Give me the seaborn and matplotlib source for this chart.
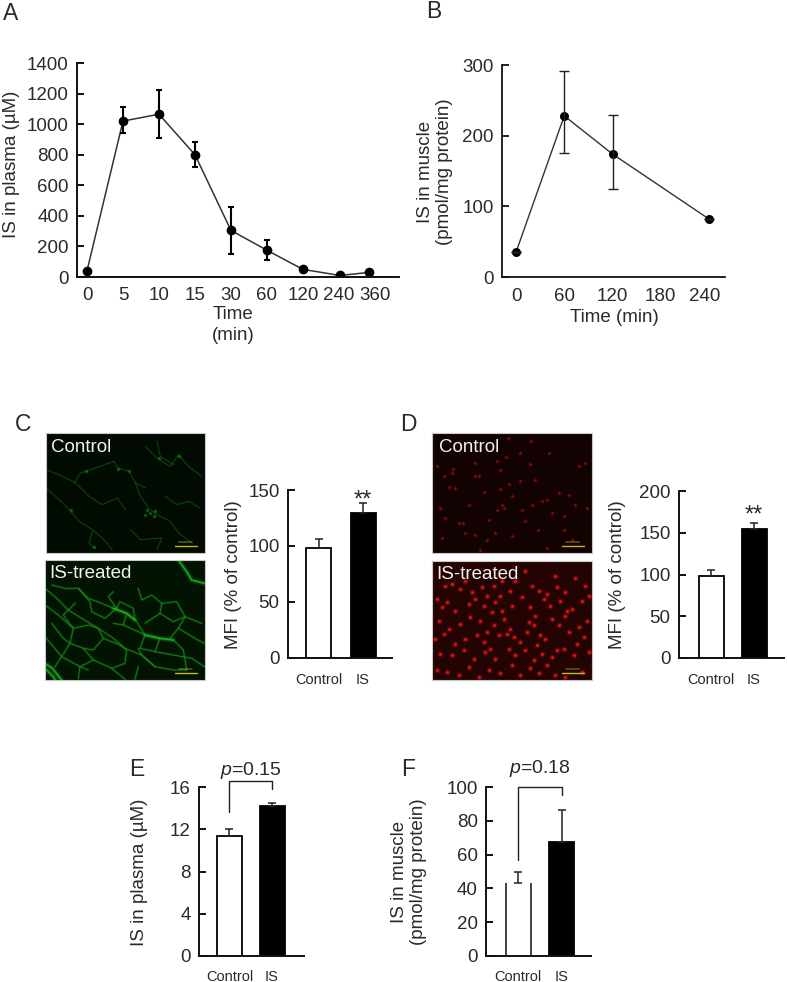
import matplotlib
matplotlib.use("Agg")
import matplotlib.pyplot as plt
import pandas as pd
import seaborn as sns

# A
a_labels = ["0", "5", "10", "15", "30", "60", "120", "240", "360"]
a_x = [0, 1, 2, 3, 4, 5, 6, 7.03, 7.83]
a_y = [40, 1020, 1065, 800, 305, 175, 50, 10, 30]
a_low = [40, 945, 910, 720, 150, 110, 50, 10, 30]
a_high = [40, 1115, 1225, 885, 460, 240, 50, 10, 30]

# B
b_x = [0, 60, 120, 240]
b_y = [35, 228, 174, 82]
b_low = [35, 175, 124, 82]
b_high = [35, 291, 229, 82]
b_ticks = [0, 60, 120, 180, 235]
b_labels = ["0", "60", "120", "180", "240"]

# bar panels
groups = ["Control", "IS"]
c_y = [98, 129.5]
c_err = [106, 138]
d_y = [98.5, 155]
d_err = [105, 162]
e_y = [11.4, 14.2]
e_err = [12, 14.5]
f_y = [43, 67.3]
f_err = [50, 86.5]

# micrographs, traces (x, y in a 480x360 frame)
green_ctrl_traces = [
    [(0, 165), (40, 200), (75, 235), (100, 265), (140, 290), (175, 320), (200, 350)],
    [(85, 150), (105, 120), (150, 105), (205, 85), (218, 105), (250, 115), (270, 150), (300, 165)],
    [(270, 150), (285, 190), (310, 225), (335, 245), (375, 265), (400, 300), (440, 330)],
    [(300, 40), (335, 75), (375, 100), (400, 65), (430, 100), (470, 130)],
    [(335, 25), (345, 70), (385, 95)],
    [(0, 110), (50, 130), (90, 150), (130, 190), (170, 215), (215, 195), (240, 230)],
    [(255, 290), (285, 320), (350, 315), (335, 350)],
    [(140, 295), (130, 330), (145, 345)],
    [(360, 190), (395, 215), (430, 205), (465, 225)],
]
green_ctrl_blobs_x = [305, 315, 325, 300, 330, 400, 340, 120, 218, 250, 145, 75]
green_ctrl_blobs_y = [230, 240, 250, 245, 235, 68, 75, 115, 107, 113, 342, 230]

green_is_traces = [
    [(0, 85), (35, 115), (70, 150), (110, 175), (160, 205), (205, 235), (240, 265), (290, 285), (330, 320)],
    [(20, 75), (60, 85), (100, 85), (130, 115), (170, 130), (205, 145), (245, 160), (275, 185), (300, 225), (345, 235), (385, 240), (415, 270), (425, 330)],
    [(100, 85), (135, 125), (140, 155), (180, 175), (215, 145)],
    [(205, 95), (190, 110), (215, 145), (225, 125), (265, 145), (270, 180)],
    [(280, 85), (290, 120), (320, 105), (350, 130), (395, 125), (420, 170), (400, 205), (375, 235)],
    [(0, 135), (40, 165), (85, 205), (75, 250), (115, 265), (145, 300), (200, 325), (240, 358)],
    [(85, 205), (130, 195), (160, 205), (175, 235), (145, 270), (115, 265)],
    [(175, 235), (225, 255), (245, 270), (240, 310), (200, 325)],
    [(245, 160), (235, 195), (280, 215), (300, 225), (285, 265), (330, 275), (345, 235)],
    [(330, 275), (385, 285), (440, 295), (478, 320)],
    [(20, 190), (55, 235), (75, 250), (50, 290), (105, 320), (145, 300)],
    [(0, 230), (50, 290), (30, 320)],
    [(280, 265), (290, 285), (330, 320), (385, 330), (425, 330)],
    [(300, 190), (345, 160), (385, 185), (420, 170), (470, 190)],
    [(345, 160), (350, 130)],
    [(205, 235), (235, 195), (205, 145)],
    [(90, 130), (55, 165), (85, 205)],
    [(400, 205), (450, 235), (478, 250)],
    [(280, 320), (270, 358)],
    [(130, 330), (105, 320), (100, 355)],
]
green_is_bright = [
    [(400, 0), (425, 35), (440, 60), (478, 70)],
    [(0, 310), (22, 325), (50, 360)],
    [(0, 325), (25, 350), (30, 360)],
    [(205, 145), (245, 160), (270, 180)],
    [(300, 225), (345, 235), (385, 240)],
]

red_ctrl_x = [228, 296, 222, 196, 62, 50, 70, 130, 140, 205, 230, 215, 195, 210, 265, 295, 330, 318, 396, 145,
              92, 100, 130, 170, 190, 240, 270, 300, 345, 360, 410, 430, 465, 25, 30, 40, 60, 82, 110, 155,
              280, 310, 380, 440, 460, 15, 35, 130, 205, 240, 345, 395, 420, 350, 165, 265]
red_ctrl_y = [15, 23, 72, 85, 108, 162, 165, 130, 128, 168, 152, 226, 230, 215, 143, 92, 205, 292, 290, 350,
              270, 300, 305, 260, 300, 310, 230, 215, 200, 240, 185, 215, 225, 225, 315, 255, 120, 270, 215, 178,
              265, 140, 180, 100, 90, 100, 130, 90, 110, 190, 345, 250, 320, 60, 320, 60]

red_is_x = [40, 60, 100, 85, 120, 150, 165, 185, 205, 210, 235, 250, 280, 300, 320, 345, 370, 375, 400, 430, 460,
            15, 30, 45, 70, 110, 130, 155, 180, 190, 210, 240, 270, 295, 310, 335, 355, 385, 405, 420, 450, 470,
            20, 50, 85, 115, 145, 165, 185, 215, 235, 245, 290, 305, 325, 360, 380, 400, 440, 465,
            10, 35, 70, 100, 135, 155, 175, 200, 225, 265, 285, 315, 340, 375, 410, 435, 455,
            25, 60, 95, 125, 160, 190, 230, 250, 280, 305, 330, 360, 395, 425, 470,
            15, 45, 80, 110, 140, 170, 205, 240, 265, 295, 320, 345, 370, 400, 450]
red_is_y = [75, 70, 60, 85, 95, 80, 105, 75, 105, 60, 90, 60, 30, 75, 90, 100, 45, 80, 95, 50, 75,
            115, 140, 125, 150, 130, 115, 135, 155, 125, 150, 135, 110, 140, 165, 115, 135, 120, 150, 145, 120, 105,
            180, 205, 190, 170, 180, 215, 195, 175, 205, 230, 185, 195, 225, 175, 195, 165, 200, 180,
            235, 220, 250, 235, 225, 245, 265, 225, 220, 245, 215, 255, 235, 270, 215, 250, 230,
            280, 285, 270, 295, 275, 295, 265, 285, 270, 300, 280, 290, 265, 285, 275,
            330, 335, 345, 320, 350, 330, 340, 315, 345, 325, 340, 315, 345, 350, 335]

panel_labels = ["A", "B", "C", "D", "E", "F"]
panel_label_xy = [(11, 14), (434, 11), (23, 425), (408, 425), (137, 770), (408, 770)]

W, H = 787, 982
ink = "#2a2a2a"

sns.set_theme(style="ticks")
plt.rcParams["font.family"] = ["Liberation Sans", "DejaVu Sans"]
plt.rcParams["text.color"] = ink
plt.rcParams["axes.labelcolor"] = ink
plt.rcParams["xtick.labelcolor"] = ink
plt.rcParams["ytick.labelcolor"] = ink
plt.rcParams["mathtext.fontset"] = "custom"
plt.rcParams["mathtext.it"] = "Liberation Sans:italic"

fig = plt.figure(figsize=(W / 100, H / 100), dpi=100, facecolor="white")


def px_axes(left, top, right, bottom):
    return fig.add_axes([left / W, 1 - bottom / H, (right - left) / W, (bottom - top) / H])


def style_axes(ax, left, top, right, bottom, lw=1.4, tick_len=5):
    sns.despine(ax=ax)
    ax.patch.set_alpha(0)
    for s in ["left", "bottom"]:
        ax.spines[s].set_linewidth(lw)
        ax.spines[s].set_color("#111111")
    ax.tick_params(axis="y", direction="in", length=tick_len, width=lw, labelsize=13.5, pad=6, color="#111111")
    ax.tick_params(axis="x", length=0, labelsize=13.5)


def label_at(ax, box, text, x=None, y=None, which="y", **kw):
    left, top, right, bottom = box
    if which == "y":
        ax.set_ylabel(text, fontsize=13.5, linespacing=1.22, va="center", **kw)
        ax.yaxis.set_label_coords((x - left) / (right - left), (bottom - y) / (bottom - top))
    else:
        ax.set_xlabel(text, fontsize=13.5, linespacing=1.32, va="center", **kw)
        ax.xaxis.set_label_coords((x - left) / (right - left), (bottom - y) / (bottom - top))


# A
box = (77, 63, 399, 277)
ax = px_axes(*box)
sns.lineplot(x=a_x, y=a_y, ax=ax, color="#333333", linewidth=1.1, marker="o", markersize=7,
             markerfacecolor="black", markeredgecolor="black", markeredgewidth=0, errorbar=None)
ax.errorbar(a_x, a_y, yerr=[[m - l for m, l in zip(a_y, a_low)], [h - m for m, h in zip(a_y, a_high)]],
            fmt="none", ecolor="black", elinewidth=1.5, capsize=2.5, capthick=1.5)
ax.set_xlim(-0.278, 8.67)
ax.set_ylim(0, 1400)
ax.set_yticks(range(0, 1401, 200))
ax.set_xticks(range(9))
ax.set_xticklabels(a_labels)
style_axes(ax, *box)
ax.tick_params(axis="x", pad=7)
label_at(ax, box, "IS in plasma (µM)", x=12, y=164)
label_at(ax, box, "Time\n(min)", x=233, y=325, which="x")

# B
box = (502, 65, 725, 277)
ax = px_axes(*box)
sns.lineplot(x=b_x, y=b_y, ax=ax, color="#333333", linewidth=1.0, marker="o", markersize=6.5,
             markerfacecolor="black", markeredgecolor="black", markeredgewidth=0, errorbar=None)
ax.errorbar(b_x, b_y, yerr=[[m - l for m, l in zip(b_y, b_low)], [h - m for m, h in zip(b_y, b_high)]],
            fmt="none", ecolor="#222222", elinewidth=1.0, capsize=3.5, capthick=1.0)
px_per_min = (709 - 516) / 240
ax.set_xlim((502 - 516) / px_per_min, (725 - 516) / px_per_min)
ax.set_ylim(0, 300)
ax.set_yticks([0, 100, 200, 300])
ax.set_xticks(b_ticks)
ax.set_xticklabels(b_labels)
style_axes(ax, *box, lw=1.3)
ax.tick_params(axis="x", pad=8)
label_at(ax, box, "IS in muscle\n(pmol/mg protein)", x=435, y=172)
label_at(ax, box, "Time (min)", x=614, y=318, which="x")


# bars
def bar_panel(box, centers, bar_w, values, tops, ymax, yticks, ylabel, ylab_xy, label_y=677):
    left, top, right, bottom = box
    ax = px_axes(*box)
    frame = pd.DataFrame({"group": groups, "value": values})
    step = centers[1] - centers[0]
    sns.barplot(data=frame, x="group", y="value", hue="group", palette=["white", "black"], legend=False,
                width=bar_w / step, edgecolor="black", linewidth=1.3, ax=ax)
    ax.errorbar([0, 1], values, yerr=[[0, 0], [t - v for t, v in zip(tops, values)]],
                fmt="none", ecolor="#222222", elinewidth=1.1, capsize=3.2, capthick=1.1)
    ax.set_xlim((left - centers[0]) / step, (right - centers[0]) / step)
    ax.set_ylim(0, ymax)
    ax.set_yticks(yticks)
    style_axes(ax, *box)
    ax.set_xlabel("")
    ax.set_xticks([0, 1])
    ax.set_xticklabels(groups)
    ax.tick_params(axis="x", labelsize=10.5, pad=label_y - bottom - 8)
    label_at(ax, box, ylabel, x=ylab_xy[0], y=ylab_xy[1])
    return ax


ax_c = bar_panel((288, 490, 392, 658), (318.5, 363), 25, c_y, c_err, 150, [0, 50, 100, 150],
                 "MFI (% of control)", (233, 575))
ax_d = bar_panel((679, 491, 784, 658), (711, 754), 25, d_y, d_err, 200, [0, 50, 100, 150, 200],
                 "MFI (% of control)", (618, 575))
ax_c.text(1, 130.5, "**", ha="center", va="bottom", fontsize=17)
ax_d.text(1, 157.5, "**", ha="center", va="bottom", fontsize=17)

ax_e = bar_panel((199, 787, 304, 956), (229.5, 272), 25, e_y, e_err, 16, [0, 4, 8, 12, 16],
                 "IS in plasma (µM)", (140, 872), label_y=974)
ax_f = bar_panel((486, 787, 591, 956), (518, 561.5), 25, f_y, f_err, 100, [0, 20, 40, 60, 80, 100],
                 "IS in muscle\n(pmol/mg protein)", (409, 872), label_y=974)

# F control bar has no top edge, white gap under the error bar
ctrl = ax_f.patches[0]
ctrl.set_edgecolor("none")
ax_f.vlines([ctrl.get_x(), ctrl.get_x() + ctrl.get_width()], 0, f_y[0], color="#222222", linewidth=1.2)


def bracket(ax, x0, x1, y_left, y_top, y_right, text, text_y):
    ax.plot([x0, x0, x1, x1], [y_left, y_top, y_top, y_right], color="#222222", linewidth=1.0, clip_on=False)
    ax.text((x0 + x1) / 2, text_y, r"$\mathit{p}$=" + text, ha="center", va="center", fontsize=14,
            clip_on=False)


bracket(ax_e, 0, 1, 13.6, 16.55, 15.8, "0.15", 17.55)
bracket(ax_f, 0, 1, 57, 100, 95.5, "0.18", 111)


# micrographs
def micro_axes(left, top, right, bottom, bg):
    ax = px_axes(left, top, right, bottom)
    ax.set_facecolor(bg)
    ax.set_xlim(0, 480)
    ax.set_ylim(360, 0)
    ax.set_xticks([])
    ax.set_yticks([])
    for s in ax.spines.values():
        s.set_color("#c8c8c8")
        s.set_linewidth(0.8)
    return ax


def draw_traces(ax, traces, color, lw, alpha):
    for tr in traces:
        sns.lineplot(x=[p[0] for p in tr], y=[p[1] for p in tr], ax=ax, color=color, linewidth=lw * 3,
                     alpha=alpha * 0.25, sort=False, errorbar=None)
        sns.lineplot(x=[p[0] for p in tr], y=[p[1] for p in tr], ax=ax, color=color, linewidth=lw,
                     alpha=alpha, sort=False, errorbar=None)
    ax.set_xlim(0, 480)
    ax.set_ylim(360, 0)


def draw_spots(ax, xs, ys, color, size, alpha):
    sns.scatterplot(x=xs, y=ys, ax=ax, color=color, s=size * 4, alpha=alpha * 0.3, linewidth=0, legend=False)
    sns.scatterplot(x=xs, y=ys, ax=ax, color=color, s=size, alpha=alpha, linewidth=0, legend=False)
    ax.set_xlim(0, 480)
    ax.set_ylim(360, 0)


def finish_micro(ax, text, x=14):
    ax.plot([390, 455], [340, 340], color="#c8b820", linewidth=1.0)
    ax.plot([402, 442], [327, 327], color="#a89a20", linewidth=1.2, alpha=0.5)
    ax.text(x, 42, text, color="#f2f2f2", fontsize=13.5, va="center", ha="left")


m = micro_axes(46, 433, 205, 553, "#010b01")
draw_traces(m, green_ctrl_traces, "#146f14", 0.5, 0.6)
draw_spots(m, green_ctrl_blobs_x, green_ctrl_blobs_y, "#1f8f1f", 2.5, 0.75)
finish_micro(m, "Control")

m = micro_axes(45, 560, 205, 680, "#021302")
draw_traces(m, green_is_traces, "#189018", 0.7, 0.8)
draw_traces(m, green_is_bright, "#20b020", 1.3, 0.85)
finish_micro(m, "IS-treated")

m = micro_axes(432, 433, 592, 553, "#130202")
draw_spots(m, red_ctrl_x, red_ctrl_y, "#b01212", 2.5, 0.75)
finish_micro(m, "Control", x=22)

m = micro_axes(432, 561, 592, 680, "#240303")
draw_spots(m, red_is_x, red_is_y, "#e81616", 4.5, 0.9)
finish_micro(m, "IS-treated")

for letter, (x, y) in zip(panel_labels, panel_label_xy):
    fig.text(x / W, 1 - y / H, letter, fontsize=16.5, ha="center", va="center")

fig.savefig("out.png", dpi=100)
